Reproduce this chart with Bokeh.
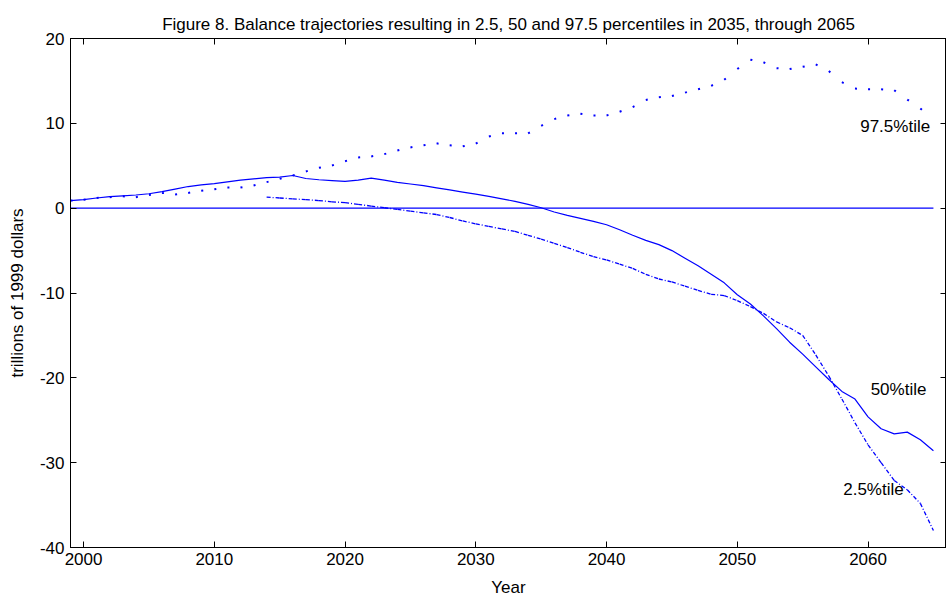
from bokeh.plotting import figure
from bokeh.models import Range1d, LinearAxis, FixedTicker
from bokeh.core.properties import value
from bokeh.embed import file_html
from bokeh.resources import INLINE

# Simulated balance trajectories, trillions of 1999 dollars
YEARS = list(range(1999, 2066))

P50 = [0.9, 1.0, 1.2, 1.35, 1.45, 1.55, 1.7, 1.95, 2.25, 2.55,
       2.75, 2.9, 3.1, 3.3, 3.45, 3.6, 3.65, 3.85, 3.5, 3.35,
       3.25, 3.15, 3.3, 3.55, 3.3, 3.05, 2.85, 2.65, 2.4, 2.15,
       1.9, 1.65, 1.4, 1.1, 0.8, 0.45, 0.05, -0.45, -0.85, -1.2,
       -1.55, -1.95, -2.55, -3.2, -3.8, -4.3, -5.0, -5.9, -6.8, -7.8,
       -8.8, -10.2, -11.3, -12.7, -14.2, -15.8, -17.2, -18.7, -20.2, -21.6,
       -22.5, -24.6, -26.0, -26.6, -26.4, -27.3, -28.6]

P975 = [0.9, 1.0, 1.2, 1.3, 1.4, 1.3, 1.55, 1.8, 1.62, 1.8,
        2.05, 2.24, 2.44, 2.44, 2.68, 3.07, 3.45, 3.85, 4.33, 4.76,
        5.03, 5.54, 5.98, 6.1, 6.37, 6.8, 7.16, 7.41, 7.64, 7.41,
        7.29, 7.6, 8.44, 8.83, 8.83, 8.83, 9.7, 10.5, 10.93, 11.13,
        10.93, 10.93, 11.37, 11.92, 12.75, 13.07, 13.23, 13.62, 14.02, 14.42,
        15.13, 16.4, 17.5, 17.2, 16.5, 16.4, 16.67, 16.95, 16.16, 14.85,
        14.1, 14.02, 14.02, 13.9, 12.8, 11.76, 10.5]

YEARS_P25 = list(range(2014, 2066))
P25 = [1.3, 1.2, 1.1, 1.0, 0.9, 0.75, 0.65, 0.45, 0.25, 0.05,
       -0.15, -0.35, -0.55, -0.75, -1.1, -1.5, -1.85, -2.15, -2.45, -2.75,
       -3.2, -3.65, -4.15, -4.65, -5.2, -5.7, -6.1, -6.6, -7.1, -7.8,
       -8.35, -8.7, -9.2, -9.7, -10.15, -10.3, -10.9, -11.6, -12.4, -13.4,
       -14.1, -15.0, -17.3, -19.8, -22.5, -25.3, -27.9, -30.0, -32.1, -33.2,
       -34.8, -38.0]

# Series labels and where they sit
LABELS = ["97.5%tile", "50%tile", "2.5%tile"]
LABEL_X = [2059.4, 2060.2, 2058.1]
LABEL_Y = [9.6, -21.4, -33.2]

X_TICKS = [2000, 2010, 2020, 2030, 2040, 2050, 2060]
Y_TICKS = [-40, -30, -20, -10, 0, 10, 20]

FONT = "Liberation Sans"
BLUE = "#0000ff"

p = figure(width=946, height=603, output_backend="svg", toolbar_location=None,
           x_range=Range1d(1999, 2066), y_range=Range1d(-40, 20),
           min_border_left=70, min_border_right=0, min_border_top=38,
           min_border_bottom=56,
           title="Figure 8. Balance trajectories resulting in 2.5, 50 and 97.5 percentiles in 2035, through 2065")
p.background_fill_color = "white"
p.border_fill_color = "white"
p.outline_line_color = "black"
p.outline_line_width = 1
p.grid.visible = False

p.title.text_font = FONT
p.title.text_font_size = "17px"
p.title.text_font_style = "normal"
p.title.align = "center"
p.title.text_color = "black"

# zero balance line
p.line(x=[YEARS[0], YEARS[-1]], y=[0, 0], line_color=BLUE, line_width=1.2)

# median: solid
p.line(x=YEARS, y=P50, line_color=BLUE, line_width=1.2)

# 97.5 percentile: dotted, one dot per yearly segment
p.segment(x0=YEARS[:-1], y0=P975[:-1], x1=YEARS[1:], y1=P975[1:],
          line_color=BLUE, line_width=2, line_dash=value("2 40"), line_cap="butt")

# 2.5 percentile: dash-dot
p.segment(x0=YEARS_P25[:-1], y0=P25[:-1], x1=YEARS_P25[1:], y1=P25[1:],
          line_color=BLUE, line_width=1.3, line_dash=value("4 2 1 2"), line_cap="butt")

p.text(x=LABEL_X, y=LABEL_Y, text=LABELS, text_font=value(FONT),
       text_font_size="17px", text_baseline="middle", text_align="left",
       text_color="black")


def style_axis(ax, labels=True):
    ax.axis_line_color = "black"
    ax.major_tick_line_color = "black"
    ax.major_tick_in = 6
    ax.major_tick_out = 0
    ax.minor_tick_line_color = None
    ax.major_label_text_font = FONT
    ax.major_label_text_color = "black"
    ax.axis_label_text_font = FONT
    ax.axis_label_text_font_style = "normal"
    ax.axis_label_text_color = "black"
    if labels:
        ax.major_label_text_font_size = "17px"
        ax.axis_label_text_font_size = "17px"
    else:
        # box edges carry tick marks only
        ax.major_label_text_font_size = "0px"
        ax.major_label_text_color = None
        ax.major_label_standoff = 0


xa = p.xaxis[0]
xa.ticker = FixedTicker(ticks=X_TICKS)
xa.major_label_overrides = {t: str(t) for t in X_TICKS}
xa.axis_label = "Year"
xa.major_label_standoff = 5
xa.axis_label_standoff = 10
style_axis(xa)

ya = p.yaxis[0]
ya.ticker = FixedTicker(ticks=Y_TICKS)
ya.major_label_overrides = {t: str(t) for t in Y_TICKS}
ya.axis_label = "trillions of 1999 dollars"
ya.major_label_standoff = 6
ya.axis_label_standoff = 10
style_axis(ya)

top = LinearAxis(ticker=FixedTicker(ticks=X_TICKS))
style_axis(top, labels=False)
p.add_layout(top, "above")

right = LinearAxis(ticker=FixedTicker(ticks=Y_TICKS))
style_axis(right, labels=False)
p.add_layout(right, "right")

open("out.html", "w").write(file_html(p, INLINE))
